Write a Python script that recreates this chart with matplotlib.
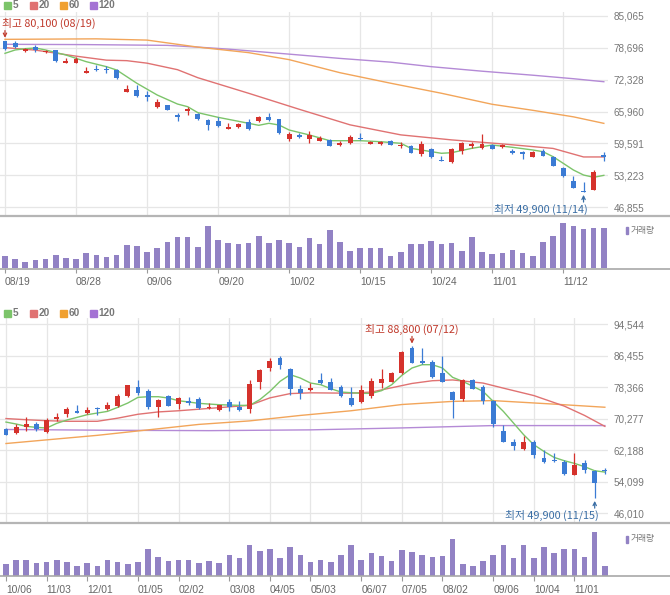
import numpy as np
import matplotlib
matplotlib.use("Agg")
import matplotlib.pyplot as plt
from matplotlib.lines import Line2D
from matplotlib.patches import Rectangle

plt.rcParams['font.family'] = ['Liberation Sans', 'DejaVu Sans']
KR = ['Noto Sans CJK KR', 'DejaVu Sans']

W, H = 670, 595
RED, BLUE = "#d5322c", "#3b7bd4"
C5, C20, C60, C120 = "#7cc46a", "#e07272", "#f2a55a", "#b48ad6"
VOLC = "#9282c4"
GRID = "#e6e6e6"

# ---------------- daily chart (top) ----------------
d_labels = ["08/19", "08/28", "09/06", "09/20", "10/02", "10/15", "10/24", "11/01", "11/12"]
d_label_idx = [0, 7, 14, 21, 28, 35, 42, 48, 55]
d_yticks = [46855, 53223, 59591, 65960, 72328, 78696, 85065]

d_open = [80000, 79700, 78000, 78900, 77900, 78200, 75700, 75700, 73600, 74500,
          74500, 74200, 69800, 70200, 69200, 66800, 67200, 65200, 66000, 65500,
          64300, 64000, 62400, 62800, 63900, 64000, 64900, 64400, 60500, 61300,
          60400, 60100, 60300, 59200, 59600, 60700, 59500, 59500, 60100, 59100,
          59100, 57500, 58500, 56300, 55800, 58000, 59100, 58700, 59300, 58800,
          58000, 57800, 56900, 58100, 56900, 54700, 52100, 50100, 50400, 57200]
d_high = [80100, 80000, 78550, 79300, 78300, 78300, 76600, 76800, 74800, 75200,
          75000, 74400, 71200, 71300, 70000, 68400, 67300, 65700, 66900, 65600,
          64400, 64800, 63700, 63600, 64400, 65100, 65600, 64500, 61900, 61700,
          62000, 61100, 60400, 60000, 61300, 61700, 60100, 60100, 60300, 59900,
          59200, 60000, 58700, 57100, 58700, 59900, 59900, 61500, 59500, 59400,
          58500, 58100, 58100, 58400, 57100, 54800, 53100, 51900, 54300, 57800]
d_low = [78200, 78700, 77800, 77800, 77700, 75900, 75700, 75600, 73600, 74000,
         73600, 72500, 69800, 68900, 68100, 66600, 66200, 64100, 65300, 64300,
         62300, 62900, 62400, 62600, 62300, 63800, 64100, 61500, 60000, 60700,
         59600, 60000, 59000, 59100, 59400, 60300, 59400, 59350, 59200, 58700,
         57600, 57100, 56600, 56000, 55700, 57500, 58700, 58500, 58400, 58700,
         57500, 56400, 56800, 57000, 55000, 53000, 50700, 49900, 50300, 56100]
d_close = [78400, 78900, 78500, 78200, 78100, 76000, 76100, 76500, 74100, 74200,
           74200, 72600, 70400, 69000, 68900, 67800, 66300, 64900, 66500, 64400,
           63200, 63100, 62900, 63500, 62400, 64900, 64300, 61600, 61500, 60800,
           61200, 60700, 59100, 59600, 60900, 60500, 59900, 59900, 59300, 59300,
           57700, 59400, 56800, 56000, 58400, 59700, 59500, 59400, 58500, 59200,
           57700, 57400, 57800, 57100, 55100, 53100, 50800, 49900, 53900, 56900]
d_volume = [15, 11, 7.5, 9.5, 11, 16, 12, 11, 17.5, 16,
            13.5, 16, 27.5, 26.5, 19, 23.5, 31, 36.5, 36.5, 25,
            49, 33.5, 29.5, 28, 29.5, 38, 29.5, 33.5, 29.5, 25,
            35, 28, 45, 31, 20.5, 23.5, 23.5, 23.5, 15, 19,
            28, 28, 32, 28, 29.5, 20.5, 36.5, 19, 16.5, 17.5,
            22, 17.5, 15, 31, 38, 52.5, 49, 46.5, 47.5, 47.5]

d_ma5_idx = [0, 1, 2, 3, 4, 6, 8, 10, 11, 13, 15, 17, 18, 19, 21, 23, 25, 26, 27, 28,
             30, 32, 35, 37, 39, 40, 43, 44, 46, 48, 50, 52, 53, 54, 55, 56, 57, 58, 59]
d_ma5 = [77560, 78230, 78490, 78630, 78230, 77230, 75900, 74900, 74240, 71580,
         69250, 67450, 66920, 65730, 64800, 64010, 63210, 63610, 63270, 62270,
         61280, 60140, 60140, 59940, 59620, 58620, 57630, 57750, 58620, 59280,
         58820, 58290, 57950, 56950, 55630, 54300, 53300, 52840, 53230]
d_ma20_idx = [0, 3, 7, 10, 12, 14, 17, 19, 24, 29, 34, 39, 44, 49, 54, 57, 59]
d_ma20 = [78700, 78200, 77000, 76200, 76100, 75600, 74300, 72700, 69600, 66400,
          63300, 61300, 60300, 59500, 58600, 56900, 56900]
d_ma60_idx = [0, 9, 14, 19, 24, 28, 33, 38, 43, 48, 52, 56, 59]
d_ma60 = [80350, 80450, 80200, 78800, 77700, 76300, 73700, 71600, 69600, 67400,
          66200, 64900, 63600]
d_ma120_idx = [0, 8, 16, 19, 22, 28, 33, 38, 42, 47, 52, 56, 59]
d_ma120 = [79360, 79300, 79150, 78800, 78400, 77400, 76550, 75800, 74900, 74000,
           73200, 72500, 71900]

# ---------------- weekly chart (bottom) ----------------
w_labels = ["10/06", "11/03", "12/01", "01/05", "02/02", "03/08", "04/05",
            "05/03", "06/07", "07/05", "08/02", "09/06", "10/04", "11/01"]
w_label_idx = [0, 4, 8, 13, 17, 22, 26, 30, 35, 39, 43, 48, 52, 56]
w_yticks = [46010, 54099, 62188, 70277, 78366, 86455, 94544]

w_open = [67700, 66500, 68200, 68900, 66800, 70100, 71500, 72300, 71800, 73000,
          72800, 73500, 76200, 78500, 77300, 73300, 76200, 74000, 74700, 75200,
          73000, 72500, 74500, 73300, 72800, 79800, 83300, 85700, 83100, 77800,
          77600, 80200, 79800, 78500, 75600, 74500, 76200, 79300, 79800, 81900,
          88400, 85100, 84800, 81900, 77100, 75400, 80300, 78500, 74900, 67200,
          64300, 62400, 64400, 60300, 59700, 59100, 55900, 58800, 56900, 57100]
w_high = [67900, 68900, 70600, 69400, 70400, 71600, 73300, 73700, 73200, 73200,
          74500, 76600, 79000, 80200, 77800, 75200, 76400, 75700, 75700, 75700,
          74400, 73900, 75200, 74700, 80200, 82900, 85800, 86300, 83300, 79000,
          79300, 81900, 80700, 79000, 78500, 79000, 80700, 82900, 82200, 87500,
          88800, 88400, 85300, 86300, 77300, 80500, 80500, 78800, 75100, 68600,
          65000, 65800, 64800, 62200, 61400, 59800, 61400, 59700, 57100, 57600]
w_low = [66000, 66300, 67000, 67200, 66700, 69700, 70800, 71700, 71500, 71300,
         72500, 73300, 75900, 76400, 72800, 70800, 73400, 72800, 73700, 72700,
         72800, 72300, 72300, 72300, 71800, 78000, 82400, 82900, 76400, 75400,
         77300, 79200, 77500, 75900, 73500, 74400, 75600, 78100, 79800, 81700,
         84500, 84300, 80700, 79700, 70400, 74900, 77800, 74000, 68200, 64300,
         62200, 62200, 60200, 59000, 59200, 55900, 55800, 56400, 49900, 56200]
w_close = [66200, 68200, 68900, 67500, 69900, 70800, 72800, 71800, 72500, 72700,
           73700, 76200, 78800, 76800, 73200, 75000, 73500, 75600, 74200, 73000,
           73300, 73700, 73200, 72500, 79200, 82700, 85000, 84100, 78000, 76900,
           78100, 79300, 77600, 76100, 73700, 77600, 80000, 80400, 81900, 87400,
           84600, 84600, 81000, 79800, 75000, 80300, 78000, 74700, 68900, 64400,
           63300, 64400, 60900, 59100, 59300, 56000, 58500, 57100, 53700, 56800]
w_volume = [81, 111, 111, 87, 96, 111, 93, 69, 87, 69,
            111, 96, 81, 96, 189, 129, 105, 111, 111, 87,
            102, 87, 147, 120, 216, 174, 189, 120, 198, 147,
            96, 111, 96, 147, 216, 111, 156, 138, 105, 180,
            165, 147, 129, 138, 258, 78, 69, 102, 147, 216,
            120, 216, 120, 198, 156, 189, 189, 129, 309, 69]

w_ma5_idx = [0, 1, 2, 3, 4, 5, 6, 8, 10, 11, 12, 13, 14, 15, 16, 17, 18, 19, 20, 21,
             23, 24, 25, 26, 27, 28, 29, 30, 31, 32, 33, 34, 35, 36, 37, 38, 39, 40,
             41, 42, 43, 44, 45, 46, 47, 48, 49, 50, 51, 52, 53, 54, 55, 56, 57, 58, 59]
w_ma5 = [69400, 68900, 68300, 68040, 67870, 69070, 69920, 71290, 72140, 73170,
         74280, 75730, 75900, 75900, 75560, 74880, 74540, 74200, 74020, 73850,
         73680, 73680, 75140, 77270, 79840, 81550, 80690, 79410, 78980, 77960,
         77100, 76930, 76760, 76760, 77450, 78980, 81380, 83260, 84110, 84110,
         83260, 80870, 79840, 78560, 77270, 74710, 72140, 69150, 66160, 63590,
         61880, 60340, 59490, 58810, 57950, 56920, 56580]
w_ma20_idx = [0, 2, 4, 6, 9, 11, 13, 15, 17, 20, 24, 26, 28, 30, 34, 36, 38, 40,
              42, 44, 47, 49, 52, 55, 57, 59]
w_ma20 = [70300, 70000, 69750, 69600, 69600, 70400, 71400, 72000, 72300, 72900,
          73700, 75600, 76700, 76900, 76800, 77100, 78200, 79300, 80000, 80200,
          79400, 78100, 76200, 73500, 71100, 68300]
w_ma60_idx = [0, 9, 19, 24, 29, 34, 39, 44, 48, 54, 59]
w_ma60 = [63900, 66000, 68800, 69700, 71100, 72300, 73900, 74700, 74900, 74000, 73200]
w_ma120_idx = [0, 10, 20, 30, 39, 48, 59]
w_ma120 = [67500, 67300, 67200, 67400, 67900, 68500, 68500]


def fx(x):
    return x / W


def fy(y):
    return 1 - y / H


def candles(ax, o, h, l, c, minh):
    o, h, l, c = map(np.asarray, (o, h, l, c))
    x = np.arange(len(o))
    cols = np.where(c >= o, RED, BLUE)
    ax.vlines(x, l, h, colors=cols, lw=0.9, zorder=3)
    body = np.maximum(np.abs(c - o), minh)
    ax.bar(x, body, bottom=np.minimum(o, c), width=0.48, color=cols, zorder=4)


def price_panel(ax, o, h, l, c, mas, yticks, ylim, xlim, tick_idx, minh):
    ax.set_xlim(*xlim)
    ax.set_ylim(*ylim)
    for s in ax.spines.values():
        s.set_visible(False)
    ax.set_xticks(tick_idx)
    ax.set_yticks(yticks)
    ax.set_yticklabels([f"{v:,}" for v in yticks])
    ax.yaxis.tick_right()
    ax.tick_params(axis="x", length=0, labelbottom=False)
    ax.tick_params(axis="y", length=0, pad=4, labelsize=7.2, labelcolor="#777777")
    ax.grid(True, color=GRID, lw=0.9, zorder=0)
    ax.set_facecolor("none")
    for (idx, vals), col in zip(mas, [C120, C60, C20, C5]):
        ax.plot(idx, vals, color=col, lw=1.0, zorder=2)
    candles(ax, o, h, l, c, minh)


def volume_panel(ax, vol, ymax, xlim, tick_idx, labels):
    ax.bar(np.arange(len(vol)), vol, width=0.55, color=VOLC)
    ax.set_xlim(*xlim)
    ax.set_ylim(0, ymax)
    for s in ax.spines.values():
        s.set_visible(False)
    ax.set_yticks([])
    ax.set_xticks(tick_idx)
    ax.set_xticklabels(labels, ha="left")
    ax.tick_params(axis="x", length=3.5, width=0.8, color="#9a9a9a", pad=3,
                   labelsize=7.4, labelcolor="#666666")
    ax.set_facecolor("none")


def legend(top_y):
    items = [("5", C5, 4), ("20", C20, 30), ("60", "#f0a030", 60), ("120", "#a472d4", 90)]
    for txt, col, x0 in items:
        fig.add_artist(Rectangle((fx(x0), fy(top_y + 3.5)), 6.5 / W, 6.5 / H,
                                 transform=fig.transFigure, color=col))
        fig.text(fx(x0 + 8.5), fy(top_y + 0.3), txt, fontsize=7.2, fontweight="bold",
                 color="#777777", va="center", ha="left")


def vol_legend(y):
    fig.add_artist(Rectangle((fx(626), fy(y + 3.5)), 2.2 / W, 7 / H,
                             transform=fig.transFigure, color=VOLC))
    fig.text(fx(631), fy(y), "거래량", fontsize=6.3, color="#777777",
             va="center", ha="left", family=KR)


def hline(y, col, lw):
    fig.add_artist(Line2D([0, 1], [fy(y), fy(y)], color=col, lw=lw,
                          transform=fig.transFigure))


fig = plt.figure(figsize=(W / 100, H / 100), dpi=100)

# top chart
ax1 = fig.add_axes([0, fy(215), 608 / W, (215 - 12) / H])
price_panel(ax1, d_open, d_high, d_low, d_close,
            [(d_ma120_idx, d_ma120), (d_ma60_idx, d_ma60),
             (d_ma20_idx, d_ma20), (d_ma5_idx, d_ma5)],
            d_yticks, (45325, 85803), (-0.49, 59.41), d_label_idx, 150)
ax1v = fig.add_axes([0, fy(268.4), 608 / W, (268.4 - 217) / H])
volume_panel(ax1v, d_volume, 60.1, (-0.49, 59.41), d_label_idx, d_labels)

# bottom chart
ax2 = fig.add_axes([0, fy(522), 608 / W, (522 - 318) / H])
price_panel(ax2, w_open, w_high, w_low, w_close,
            [(w_ma120_idx, w_ma120), (w_ma60_idx, w_ma60),
             (w_ma20_idx, w_ma20), (w_ma5_idx, w_ma5)],
            w_yticks, (43777, 96083), (-0.59, 59.31), w_label_idx, 190)
ax2v = fig.add_axes([0, fy(575.6), 608 / W, (575.6 - 524) / H])
volume_panel(ax2v, w_volume, 362, (-0.59, 59.31), w_label_idx, w_labels)

for y in (216, 522.5):
    hline(y, "#b5b5b5", 1.6)
for y in (268.6, 575.8):
    hline(y, "#a8a8a8", 1.2)

legend(5)
legend(313)
vol_legend(231)
vol_legend(539)


# high / low markers
def mark(ax, idx, value, text, col, up, dx_text, ha):
    sign = 1 if up else -1
    ax.annotate("", xy=(idx, value), xytext=(0, 10 * sign), textcoords="offset pixels",
                arrowprops=dict(arrowstyle="->", color=col, lw=0.9,
                                shrinkA=0, shrinkB=2, mutation_scale=6),
                annotation_clip=False)
    ax.annotate(text, xy=(idx, value), xytext=(dx_text, 17 * sign),
                textcoords="offset pixels", ha=ha, va="center", fontsize=7.8,
                color=col, family=KR, annotation_clip=False)


HI_RED, LO_BLUE = "#c0392b", "#3a6ea5"
d_hi_i = int(np.argmax(d_high))
d_lo_i = int(np.argmin(d_low))
w_hi_i = int(np.argmax(w_high))
w_lo_i = int(np.argmin(w_low))
mark(ax1, d_hi_i, d_high[d_hi_i], f"최고 {d_high[d_hi_i]:,} (08/19)",
     HI_RED, True, -3, "left")
mark(ax1, d_lo_i, d_low[d_lo_i], f"최저 {d_low[d_lo_i]:,} (11/14)",
     LO_BLUE, False, 4, "right")
mark(ax2, w_hi_i, w_high[w_hi_i], f"최고 {w_high[w_hi_i]:,} (07/12)",
     HI_RED, True, 0, "center")
mark(ax2, w_lo_i, w_low[w_lo_i], f"최저 {w_low[w_lo_i]:,} (11/15)",
     LO_BLUE, False, 4, "right")

fig.savefig("out.png", dpi=100)
